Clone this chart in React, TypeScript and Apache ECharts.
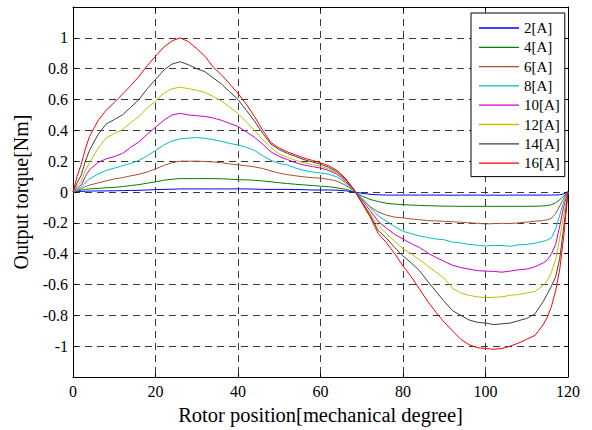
import React, { useEffect, useRef } from "react";
import * as echarts from "echarts";

const X = [0, 1, 2, 3, 4, 6, 8, 10, 12, 14, 16, 18, 20, 22, 24, 26, 28, 30, 32, 34, 36, 38, 40, 42, 44, 46, 48, 50, 52, 54, 56, 58, 60, 62, 64, 66, 68, 70, 72, 74, 76, 78, 80, 82, 84, 86, 88, 90, 92, 94, 96, 98, 100, 102, 104, 106, 108, 110, 112, 114, 115, 116, 117, 118, 119, 120];

const names = ["2[A]", "4[A]", "6[A]", "8[A]", "10[A]", "12[A]", "14[A]", "16[A]"];
const colors = ["#0000ff", "#008000", "#a8522a", "#00bfbf", "#cc00cc", "#bfbf00", "#404040", "#ff0000"];

const a2 = [0, 0.002, 0.004, 0.005, 0.006, 0.007, 0.007, 0.008, 0.009, 0.01, 0.011, 0.013, 0.016, 0.017, 0.018, 0.02, 0.02, 0.02, 0.02, 0.02, 0.02, 0.02, 0.02, 0.02, 0.019, 0.017, 0.017, 0.017, 0.017, 0.016, 0.015, 0.013, 0.013, 0.013, 0.012, 0.008, 0.001, -0.008, -0.015, -0.018, -0.02, -0.02, -0.02, -0.02, -0.02, -0.02, -0.02, -0.02, -0.021, -0.02, -0.02, -0.02, -0.021, -0.02, -0.021, -0.02, -0.02, -0.02, -0.02, -0.02, -0.02, -0.02, -0.019, -0.018, -0.012, 0.003];
const a4 = [0, 0.005, 0.012, 0.016, 0.02, 0.023, 0.027, 0.03, 0.035, 0.042, 0.048, 0.057, 0.066, 0.076, 0.083, 0.087, 0.087, 0.087, 0.087, 0.087, 0.086, 0.083, 0.08, 0.079, 0.076, 0.072, 0.066, 0.06, 0.055, 0.05, 0.046, 0.042, 0.038, 0.034, 0.027, 0.018, 0.003, -0.025, -0.048, -0.062, -0.073, -0.079, -0.082, -0.085, -0.087, -0.089, -0.09, -0.092, -0.092, -0.093, -0.093, -0.093, -0.093, -0.093, -0.093, -0.093, -0.093, -0.093, -0.092, -0.09, -0.088, -0.082, -0.07, -0.05, -0.025, 0];
const a6 = [0, 0.01, 0.02, 0.035, 0.045, 0.058, 0.072, 0.085, 0.093, 0.105, 0.115, 0.13, 0.15, 0.172, 0.19, 0.2, 0.2, 0.2, 0.198, 0.195, 0.19, 0.182, 0.176, 0.17, 0.163, 0.152, 0.137, 0.122, 0.112, 0.105, 0.098, 0.093, 0.09, 0.082, 0.07, 0.045, 0.01, -0.04, -0.095, -0.13, -0.15, -0.163, -0.168, -0.175, -0.18, -0.185, -0.188, -0.19, -0.193, -0.196, -0.2, -0.203, -0.207, -0.205, -0.203, -0.205, -0.2, -0.195, -0.19, -0.185, -0.18, -0.17, -0.14, -0.09, -0.04, 0];
const a8 = [0, 0.015, 0.03, 0.06, 0.085, 0.115, 0.14, 0.155, 0.17, 0.185, 0.205, 0.235, 0.27, 0.305, 0.33, 0.345, 0.35, 0.353, 0.348, 0.34, 0.328, 0.315, 0.305, 0.29, 0.27, 0.235, 0.205, 0.185, 0.175, 0.155, 0.14, 0.13, 0.123, 0.115, 0.098, 0.06, 0.012, -0.04, -0.1, -0.155, -0.19, -0.225, -0.255, -0.27, -0.285, -0.295, -0.305, -0.31, -0.325, -0.33, -0.34, -0.345, -0.35, -0.347, -0.347, -0.352, -0.343, -0.34, -0.332, -0.32, -0.31, -0.297, -0.24, -0.15, -0.06, 0];
const a10 = [0, 0.025, 0.045, 0.1, 0.145, 0.19, 0.215, 0.23, 0.25, 0.29, 0.325, 0.375, 0.42, 0.465, 0.5, 0.51, 0.5, 0.495, 0.49, 0.48, 0.465, 0.445, 0.425, 0.39, 0.355, 0.31, 0.26, 0.23, 0.21, 0.19, 0.175, 0.165, 0.155, 0.14, 0.115, 0.07, 0.015, -0.05, -0.12, -0.19, -0.235, -0.275, -0.305, -0.335, -0.36, -0.395, -0.425, -0.45, -0.475, -0.49, -0.5, -0.51, -0.513, -0.515, -0.52, -0.513, -0.505, -0.5, -0.485, -0.46, -0.44, -0.4, -0.34, -0.22, -0.09, 0];
const a12 = [0, 0.04, 0.07, 0.14, 0.19, 0.28, 0.35, 0.38, 0.405, 0.45, 0.49, 0.545, 0.59, 0.64, 0.67, 0.68, 0.67, 0.66, 0.645, 0.62, 0.59, 0.55, 0.51, 0.455, 0.4, 0.34, 0.29, 0.245, 0.225, 0.205, 0.19, 0.178, 0.166, 0.15, 0.12, 0.08, 0.018, -0.06, -0.14, -0.22, -0.27, -0.32, -0.37, -0.4, -0.44, -0.48, -0.52, -0.56, -0.625, -0.655, -0.67, -0.68, -0.685, -0.683, -0.68, -0.67, -0.665, -0.655, -0.645, -0.605, -0.575, -0.52, -0.44, -0.3, -0.14, 0];
const a14 = [0, 0.06, 0.11, 0.2, 0.27, 0.37, 0.44, 0.47, 0.5, 0.55, 0.6, 0.67, 0.73, 0.79, 0.83, 0.845, 0.825, 0.8, 0.78, 0.74, 0.7, 0.65, 0.6, 0.53, 0.46, 0.38, 0.31, 0.275, 0.25, 0.23, 0.21, 0.195, 0.18, 0.16, 0.13, 0.085, 0.02, -0.065, -0.15, -0.25, -0.3, -0.36, -0.415, -0.46, -0.51, -0.58, -0.645, -0.71, -0.77, -0.8, -0.83, -0.845, -0.85, -0.86, -0.855, -0.85, -0.835, -0.82, -0.79, -0.71, -0.66, -0.61, -0.55, -0.43, -0.22, 0];
const a16 = [0, 0.1, 0.18, 0.28, 0.36, 0.46, 0.53, 0.58, 0.635, 0.69, 0.75, 0.82, 0.88, 0.94, 0.98, 1.0, 0.975, 0.93, 0.88, 0.81, 0.76, 0.7, 0.64, 0.57, 0.49, 0.4, 0.32, 0.285, 0.26, 0.24, 0.22, 0.205, 0.19, 0.17, 0.14, 0.09, 0.02, -0.07, -0.16, -0.27, -0.33, -0.4, -0.48, -0.55, -0.63, -0.71, -0.78, -0.845, -0.9, -0.955, -0.99, -1.01, -1.015, -1.02, -1.015, -1.0, -0.98, -0.955, -0.93, -0.86, -0.81, -0.74, -0.64, -0.5, -0.28, 0];

const seriesValues = [a2, a4, a6, a8, a10, a12, a14, a16];

const FONT = "'Liberation Serif', 'Times New Roman', serif";

export default function App() {
  const ref = useRef<HTMLDivElement>(null);
  useEffect(() => {
    if (!ref.current) return;
    const chart = echarts.init(ref.current, undefined, { renderer: "svg" });
    const splitLine = { show: true, lineStyle: { type: [7, 5], color: "#3a3a3a", width: 1 } };
    const edge = { show: true, onZero: false, lineStyle: { color: "#000", width: 1 } };
    const tick = { show: true, inside: true, length: 4, lineStyle: { color: "#000" } };
    chart.setOption({
      animation: false,
      backgroundColor: "#ffffff",
      grid: { left: 73, right: 24, top: 7, bottom: 49, containLabel: false },
      legend: {
        data: names,
        orient: "vertical",
        left: 471,
        top: 13,
        icon: "rect",
        itemWidth: 40,
        itemHeight: 1.3,
        itemGap: 4.3,
        padding: [7.5, 5, 6, 8],
        backgroundColor: "#ffffff",
        borderColor: "#000000",
        borderWidth: 1,
        textStyle: { fontFamily: FONT, fontSize: 15, color: "#000" },
      },
      xAxis: [
        {
          type: "value",
          min: 0,
          max: 120,
          interval: 20,
          name: "Rotor position[mechanical degree]",
          nameLocation: "middle",
          nameGap: 27,
          nameTextStyle: { fontFamily: FONT, fontSize: 20.5, color: "#000" },
          axisLine: edge,
          axisTick: tick,
          axisLabel: { fontFamily: FONT, fontSize: 16, color: "#000", margin: 6 },
          splitLine,
        },
        {
          type: "value",
          position: "top",
          min: 0,
          max: 120,
          interval: 20,
          axisLine: edge,
          axisTick: tick,
          axisLabel: { show: false },
          splitLine: { show: false },
        },
      ],
      yAxis: [
        {
          type: "value",
          min: -1.2,
          max: 1.2,
          interval: 0.2,
          name: "Output torque[Nm]",
          nameLocation: "middle",
          nameGap: 42,
          nameTextStyle: { fontFamily: FONT, fontSize: 20, color: "#000" },
          axisLine: edge,
          axisTick: tick,
          axisLabel: {
            fontFamily: FONT,
            fontSize: 16,
            color: "#000",
            margin: 5,
            formatter: (v: number) => {
              if (Math.abs(Math.abs(v) - 1.2) < 1e-6) return "";
              const r = Math.round(v * 10) / 10;
              return String(r);
            },
          },
          splitLine,
        },
        {
          type: "value",
          position: "right",
          min: -1.2,
          max: 1.2,
          interval: 0.2,
          axisLine: edge,
          axisTick: tick,
          axisLabel: { show: false },
          splitLine: { show: false },
        },
      ],
      series: seriesValues.map((vals, i) => ({
        name: names[i],
        type: "line",
        xAxisIndex: 0,
        yAxisIndex: 0,
        symbol: "none",
        showSymbol: false,
        color: colors[i],
        lineStyle: { color: colors[i], width: 1 },
        data: X.map((x, j) => [x, vals[j]]),
        z: 3,
      })),
    });
    return () => chart.dispose();
  }, []);
  return (
    <div
      ref={ref}
      style={{ position: "absolute", left: 0, top: 0, width: 592, height: 430 }}
    />
  );
}
